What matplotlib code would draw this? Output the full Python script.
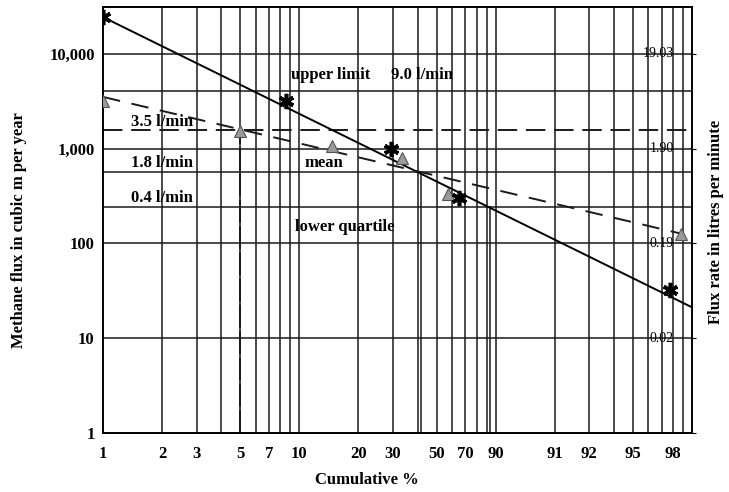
import numpy as np
import matplotlib.pyplot as plt

plt.rcParams['font.family'] = ['Liberation Serif', 'DejaVu Serif']
plt.rcParams['font.weight'] = 'bold'

# Datos (eje x en posicion de papel log, etiquetas aparte)
star_x = [1, 8.6, 29.3, 65, 773]
star_y = [24500, 3150, 1000, 305, 32]
tri_x = [1, 5, 14.7, 33.3, 57, 880]
tri_y = [3200, 1550, 1075, 800, 336, 127]

# Recta de ajuste (solida) y recta de la media (discontinua)
fit_x = [1, 1000]
fit_y = [24500, 21.2]
mean_x = [1, 880]
mean_y = [3520, 127]

# Linea horizontal 3.5 l/min y lineas verticales de referencia
limit_35 = 1585
drop_x = [5, 41.6, 94]
drop_y = [1585, 573, 240]

xtick_pos = [1, 2, 3, 5, 7, 10, 20, 30, 50, 70, 100, 200, 300, 500, 800]
xtick_lab = ['1', '2', '3', '5', '7', '10', '20', '30', '50', '70', '90',
             '91', '92', '95', '98']
ytick_pos = [1, 10, 100, 1000, 10000]
ytick_lab = ['1', '10', '100', '1,000', '10,000']
right_lab = ['0.02', '0.19', '1.90', '19.03']
right_pos = [10, 100, 1000, 10000]

grid_x = [2, 3, 4, 5, 6, 7, 8, 9, 10, 20, 30, 40, 50, 60, 70, 80, 90,
          100, 200, 300, 400, 500, 600, 700, 800, 900]
grid_y = [10, 100, 240, 570, 1000, 4100, 10000]

fig = plt.figure(figsize=(7.29, 4.92), dpi=100)
ax = fig.add_axes([103/729, 1-433/492, 589/729, 426/492])
ax.set_xscale('log')
ax.set_yscale('log')
ax.set_xlim(1, 1000)
ax.set_ylim(1, 31300)

# Rejilla
for gx in grid_x:
    ax.axvline(gx, color='#1a1a1a', lw=1.1, zorder=1)
for gy in grid_y:
    ax.axhline(gy, color='#1a1a1a', lw=1.1, zorder=1)

# Lineas de referencia
ax.axhline(limit_35, color='#1a1a1a', lw=1.4, dashes=(10, 4.5), zorder=2)
ax.plot([drop_x[0], drop_x[0]], [1, drop_y[0]], color='#1a1a1a', lw=1.4,
        dashes=(12, 1.5), zorder=2)
for dx, dy in zip(drop_x[1:], drop_y[1:]):
    ax.plot([dx, dx], [1, dy], color='#1a1a1a', lw=1.1, zorder=2)

ax.plot(fit_x, fit_y, color='black', lw=1.4, zorder=3)
ax.plot(mean_x, mean_y, color='#1a1a1a', lw=1.4, dashes=(9, 6), zorder=3)

ax.plot(tri_x, tri_y, ls='none', marker='^', ms=8, mfc='#9a9a9a',
        mec='#555555', mew=0.8, zorder=4)
ax.plot(star_x, star_y, ls='none', marker=(6, 2, 0), ms=11, mec='black',
        mew=2.6, zorder=5)

# Textos dentro del grafico
fs = 12
ax.text(9.1, 6000, 'upper limit', fontsize=fs, va='center', zorder=6)
ax.text(29.3, 6000, '9.0 l/min', fontsize=fs, va='center', zorder=6)
ax.text(1.39, 1925, '3.5 l/min', fontsize=fs, va='center', zorder=6)
ax.text(1.39, 713, '1.8 l/min', fontsize=fs, va='center', zorder=6)
ax.text(1.39, 305, '0.4 l/min', fontsize=fs, va='center', zorder=6)
ax.text(10.6, 713, 'mean', fontsize=fs, va='center', zorder=6)
ax.text(9.5, 151, 'lower quartile', fontsize=fs, va='center', zorder=6)
for lab, pos in zip(right_lab, right_pos):
    ax.text(805, pos, lab, fontsize=10, fontweight='normal', ha='right',
            va='center', zorder=6)

ax.set_xticks(xtick_pos)
ax.set_xticklabels(xtick_lab)
ax.set_yticks(ytick_pos)
ax.set_yticklabels(ytick_lab)
ax.xaxis.set_minor_locator(plt.NullLocator())
ax.yaxis.set_minor_locator(plt.NullLocator())
ax.tick_params(axis='x', length=0, pad=9, labelsize=12)
ax.tick_params(axis='y', left=False, right=True, direction='out', length=3,
               pad=3, labelsize=12)
for s in ax.spines.values():
    s.set_linewidth(1.4)

fig.text(19/729, 1-230/492, 'Methane flux in cubic m per year', rotation=90,
         ha='center', va='center', fontsize=12)
fig.text(716/729, 1-222/492, 'Flux rate in litres per minute', rotation=90,
         ha='center', va='center', fontsize=12)
fig.text(367/729, 1-480/492, 'Cumulative %', ha='center', va='center',
         fontsize=12)

fig.savefig('out.png', dpi=100)
